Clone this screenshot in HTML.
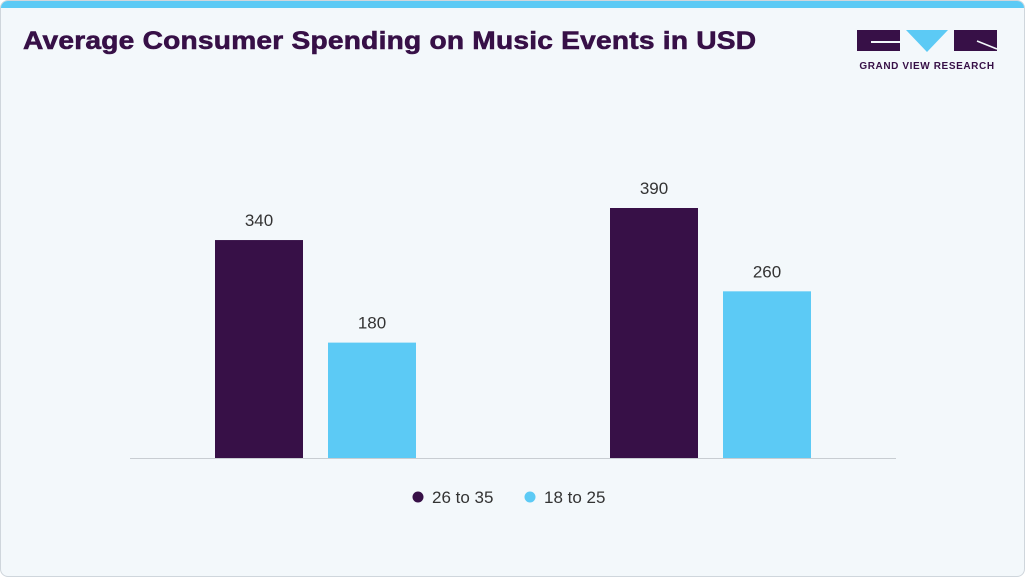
<!DOCTYPE html>
<html><head><meta charset="utf-8"><style>
body{margin:0;width:1025px;height:577px;overflow:hidden;background:#fff;font-family:"Liberation Sans",sans-serif}
#card{position:absolute;left:0;top:0;width:1023px;height:575px;border:1px solid #cfd6dc;border-radius:8px;background:#f3f8fb;overflow:hidden}
#topbar{position:absolute;left:0;top:0;width:100%;height:7px;background:#5ccaf5}
#title{position:absolute;left:22px;top:26px;font-size:25px;font-weight:bold;color:#371047;letter-spacing:0.2px;transform:scaleX(1.125);transform-origin:0 0;-webkit-text-stroke:0.6px #371047;white-space:nowrap}
</style></head><body>
<div id="card">
<div id="topbar"></div>
<div id="title">Average Consumer Spending on Music Events in USD</div>
<svg style="position:absolute;left:855px;top:28px" width="145" height="45">
<rect x="1" y="1" width="43" height="21" fill="#371047"/>
<rect x="15" y="12" width="29" height="2" fill="#f3f8fb"/>
<polygon points="50,1 92,1 71,23" fill="#5ccaf5"/>
<rect x="98" y="1" width="43" height="21" fill="#371047"/>
<line x1="121" y1="12" x2="141" y2="20" stroke="#f3f8fb" stroke-width="1.5"/>
<text x="71" y="40" text-anchor="middle" font-size="10" font-weight="bold" fill="#371047" letter-spacing="0.6">GRAND VIEW RESEARCH</text>
</svg>
<svg id="chart" width="1025" height="577" style="position:absolute;left:0;top:0"></svg>
</div>
<script>
const categories=["Group A","Group B"];
const series1=[340,390];
const series2=[180,260];
const seriesNames=["26 to 35","18 to 25"];
const colors=["#371047","#5ccaf5"];
const svg=document.getElementById('chart');
const NS='http://www.w3.org/2000/svg';
const baseY=457, scale=250/390;
const y=v=>baseY-v*scale;
const groupX=i=>214+i*395;
function mk(t,a){const e=document.createElementNS(NS,t);for(const k in a)e.setAttribute(k,a[k]);svg.appendChild(e);return e;}
[series1,series2].forEach((s,si)=>{
 s.forEach((v,i)=>{
  const x=groupX(i)+si*113;
  const r=mk('rect',{x:x,y:y(v),width:88,height:baseY-y(v),fill:colors[si]});
  
  
  const t=mk('text',{x:x+44,y:y(v)-14,'text-anchor':'middle','font-size':17,fill:'#333'});
  t.textContent=v;
  
  
 });
});
const ax=mk('line',{x1:129,x2:895,y1:baseY+0.5,y2:baseY+0.5,stroke:'#c8cdd2','stroke-width':1});


seriesNames.forEach((n,i)=>{
 const lx=417+i*112;
 const c=mk('circle',{cx:lx,cy:496,r:5.5,fill:colors[i]});
 
 
 const t=mk('text',{x:lx+14,y:502,'font-size':17,fill:'#333'});
 t.textContent=n;
 
 
});
</script>
</body></html>
